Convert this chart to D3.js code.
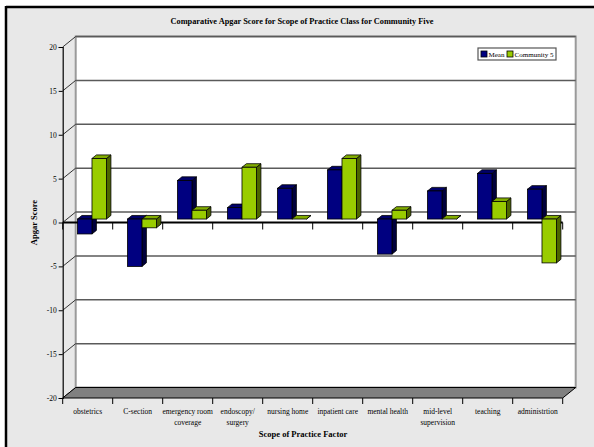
<!DOCTYPE html>
<html>
<head>
<meta charset="utf-8">
<script src="https://cdn.jsdelivr.net/npm/d3@7"></script>
<style>
  html, body { margin: 0; padding: 0; background: #ffffff; }
  svg { display: block; }
  text { font-family: "Liberation Serif", "Times New Roman", serif; fill: #000; }
</style>
</head>
<body>
<svg id="chart" width="594" height="447"></svg>
<script>
const categories = ["obstetrics", "C-section", "emergency room\ncoverage", "endoscopy/\nsurgery",
  "nursing home", "inpatient care", "mental health", "mid-level\nsupervision", "teaching", "administrtion"];
const seriesNames = ["Mean", "Community 5"];
const meanValues = [-1.7, -5.4, 4.4, 1.3, 3.5, 5.6, -4.0, 3.2, 5.2, 3.4];
const community5Values = [6.9, -1.0, 1.0, 5.9, 0, 6.9, 1.0, 0, 2.0, -5.0];
const yTicks = [-20, -15, -10, -5, 0, 5, 10, 15, 20];

const titleText = "Comparative Apgar Score for Scope of Practice Class for Community Five";
const yTitle = "Apgar Score";
const xTitle = "Scope of Practice Factor";

const colors = {
  "Mean": { front: "#000080", top: "#00006a", side: "#00003c" },
  "Community 5": { front: "#99cc00", top: "#82ad00", side: "#4d6600" }
};

const svg = d3.select("#chart");

// frame & background
svg.append("rect").attr("x", 6).attr("y", 7).attr("width", 594).attr("height", 447).attr("fill", "#e8e8e8");
svg.append("line").attr("x1", 6).attr("x2", 594).attr("y1", 7).attr("y2", 7).attr("stroke", "#000").attr("stroke-width", 2.5);
svg.append("line").attr("x1", 6).attr("x2", 6).attr("y1", 6).attr("y2", 447).attr("stroke", "#000").attr("stroke-width", 2.5);

const DX = 13, DY = -10.5;
const x0 = d3.scaleBand().domain(d3.range(categories.length)).range([62.7, 562.7]);
const x1 = d3.scaleBand().domain(seriesNames).range([10.5, 39.5]);
const y = d3.scaleLinear().domain([-20, 20]).range([398, 47]);

const left = x0.range()[0], right = x0.range()[1];

// back wall
svg.append("rect")
  .attr("x", left + DX).attr("y", y(20) + DY)
  .attr("width", right - left).attr("height", y(-20) - y(20))
  .attr("fill", "#fff").attr("stroke", "#9a9a9a").attr("stroke-width", 2);

// gridlines on back wall and left wall diagonals
const g = svg.append("g");
yTicks.forEach(t => {
  if (t > -20) {
    g.append("line").attr("x1", left + DX).attr("x2", right + DX)
      .attr("y1", y(t) + DY).attr("y2", y(t) + DY)
      .attr("stroke", "#5a5a5a").attr("stroke-width", 1.5);
  }
  g.append("line").attr("x1", left).attr("x2", left + DX)
    .attr("y1", y(t)).attr("y2", y(t) + DY)
    .attr("stroke", "#333").attr("stroke-width", 1);
});

// floor
svg.append("polygon")
  .attr("points", [[left, y(-20)], [right, y(-20)], [right + DX, y(-20) + DY], [left + DX, y(-20) + DY]].map(p => p.join(",")).join(" "))
  .attr("fill", "#808080").attr("stroke", "#000").attr("stroke-width", 1);

// front y axis
const yAxisG = svg.append("g").attr("transform", `translate(${left},0)`)
  .call(d3.axisLeft(y).tickValues(yTicks).tickFormat(d => String(d)).tickSize(4).tickPadding(2));
yAxisG.select(".domain").attr("stroke", "#000").attr("stroke-width", 1.2);
yAxisG.selectAll(".tick line").attr("stroke", "#000");
yAxisG.selectAll(".tick text").attr("font-family", "Liberation Serif, serif").attr("font-size", 7.5).attr("fill", "#222");

// front zero axis with category ticks
const zeroAxis = svg.append("g").attr("transform", `translate(0,${y(0)})`);
zeroAxis.append("line").attr("x1", left).attr("x2", right).attr("y1", 0).attr("y2", 0)
  .attr("stroke", "#000").attr("stroke-width", 2);
d3.range(categories.length + 1).forEach(i => {
  const xx = i < categories.length ? x0(i) : right;
  zeroAxis.append("line").attr("x1", xx).attr("x2", xx).attr("y1", 0).attr("y2", 7)
    .attr("stroke", "#000").attr("stroke-width", 1);
});

// bottom category axis
const botAxis = svg.append("g").attr("transform", `translate(0,${y(-20)})`);
d3.range(categories.length + 1).forEach(i => {
  const xx = i < categories.length ? x0(i) : right;
  botAxis.append("line").attr("x1", xx).attr("x2", xx).attr("y1", 0).attr("y2", 6)
    .attr("stroke", "#000").attr("stroke-width", 1);
});
categories.forEach((c, i) => {
  const lines = c.split("\n");
  const t = botAxis.append("text").attr("text-anchor", "middle")
    .attr("font-size", 7.5).attr("fill", "#222")
    .attr("x", x0(i) + x0.bandwidth() / 2).attr("y", 16);
  lines.forEach((ln, k) => {
    t.append("tspan").attr("x", x0(i) + x0.bandwidth() / 2).attr("dy", k === 0 ? 0 : 10.5).text(ln);
  });
});

// bars
const f1 = 0.33, f2 = 0.67;
const bars = svg.append("g");
categories.forEach((c, i) => {
  const vals = [meanValues[i], community5Values[i]];
  seriesNames.forEach((s, k) => {
    const v = vals[k];
    const bx = x0(i) + x1(s);
    const w = x1.bandwidth();
    const topY = y(Math.max(v, 0)), botY = y(Math.min(v, 0));
    const ox = DX * f1, oy = DY * f1;
    const bx2 = DX * f2, by2 = DY * f2;
    const col = colors[s];
    const P = pts => pts.map(p => p.join(",")).join(" ");
    bars.append("polygon").attr("points", P([
      [bx + w + ox, topY + oy], [bx + w + bx2, topY + by2], [bx + w + bx2, botY + by2], [bx + w + ox, botY + oy]
    ])).attr("fill", col.side).attr("stroke", "#000").attr("stroke-width", 0.8).attr("stroke-linejoin", "round");
    bars.append("polygon").attr("points", P([
      [bx + ox, topY + oy], [bx + w + ox, topY + oy], [bx + w + bx2, topY + by2], [bx + bx2, topY + by2]
    ])).attr("fill", col.top).attr("stroke", "#000").attr("stroke-width", 0.8).attr("stroke-linejoin", "round");
    if (botY - topY > 0) {
      bars.append("rect").attr("x", bx + ox).attr("y", topY + oy).attr("width", w).attr("height", botY - topY)
        .attr("fill", col.front).attr("stroke", "#000").attr("stroke-width", 0.8);
    }
  });
});

// titles
svg.append("text").attr("x", 302).attr("y", 24).attr("text-anchor", "middle")
  .attr("font-size", 8.3).attr("font-weight", "bold").text(titleText);
svg.append("text").attr("transform", `translate(37,${y(0)}) rotate(-90)`).attr("text-anchor", "middle")
  .attr("font-size", 8.5).attr("font-weight", "bold").text(yTitle);
svg.append("text").attr("x", 303).attr("y", 437).attr("text-anchor", "middle")
  .attr("font-size", 8.5).attr("font-weight", "bold").text(xTitle);

// legend
const lg = svg.append("g").attr("transform", "translate(478,48)");
lg.append("rect").attr("x", 0).attr("y", 0).attr("width", 78).attr("height", 12)
  .attr("fill", "#fff").attr("stroke", "#555").attr("stroke-width", 1.2);
const legendX = [3, 29];
seriesNames.forEach((s, k) => {
  lg.append("rect").attr("x", legendX[k]).attr("y", 3).attr("width", 6).attr("height", 6)
    .attr("fill", colors[s].front).attr("stroke", "#000").attr("stroke-width", 0.8);
  lg.append("text").attr("x", legendX[k] + 7.5).attr("y", 9).attr("font-size", 6.5)
    .attr("textLength", k === 0 ? 16 : 39).attr("lengthAdjust", "spacingAndGlyphs").text(s);
});
</script>
</body>
</html>
